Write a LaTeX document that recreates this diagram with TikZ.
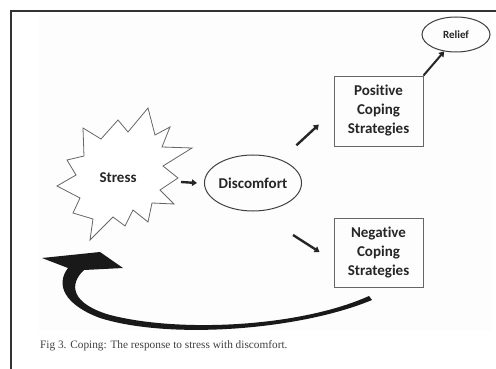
\documentclass[tikz,border=0pt]{standalone}
\usepackage{fontspec}
\setmainfont{Liberation Serif}
\newfontfamily\diag[Ligatures=NoCommon]{Carlito}
\usetikzlibrary{shapes.geometric,arrows.meta,calc}
\tikzset{
  lbl/.style={font=\diag\bfseries\fontsize{15}{19}\selectfont, text=black!85},
  oval/.style={ellipse, draw=black!75, line width=1pt, inner sep=0pt},
  stratbox/.style={rectangle, draw=black!60, line width=0.9pt, minimum width=89pt, minimum height=70pt, align=center, inner sep=0pt},
  thickarr/.style={line width=2.4pt, draw=black!85, -{Triangle[length=5pt,width=6.5pt]}},
  burst/.style={draw=black!60, line width=0.8pt, fill=white, line join=miter},
}
\begin{document}
\begin{tikzpicture}[x=1pt,y=-1pt]
\useasboundingbox (0,0) rectangle (496,369);
\fill[white] (0,0) rectangle (496,369);
\fill[black!0.8] (38,16) rectangle (492,331);
\draw[black!80, line width=1.2pt] (496,11) -- (11,11) -- (11,369);
% starburst
\draw[burst] (148,108) -- (155,135) -- (170,127) -- (162,147) -- (192,148) -- (163,166)
  -- (178,178) -- (160,190) -- (174,204) -- (152,203) -- (148,222) -- (133,210)
  -- (125,226) -- (113,217) -- (90,240) -- (93,219) -- (73,213) -- (80,198)
  -- (57,186) -- (76,175) -- (67,160) -- (84,156) -- (83,128) -- (101,139)
  -- (118,120) -- (128,132) -- cycle;
\node[lbl] (stress) at (118,178) {Stress};
\node[oval,lbl,minimum width=90pt,minimum height=56pt] (disc) at (253,183) {Discomfort};
\node[stratbox,lbl] (pos) at (378.5,111) {Positive\\Coping\\Strategies};
\node[stratbox,lbl,minimum height=69pt] (neg) at (378.5,252.5) {Negative\\Coping\\Strategies};
\node[oval,font=\diag\bfseries\fontsize{11}{13}\selectfont,text=black!85,minimum width=68pt,minimum height=35pt] (relief) at (456,34.5) {Relief};
% connectors
\draw[thickarr] ([shift={(63,4)}]stress.center) -- ([shift={(-7,0)}]disc.west);
\draw[thickarr, shorten <=21pt, shorten >=20pt] (disc.40) -- (pos.west);
\draw[thickarr] ([shift={(40,52)}]disc.center) -- ([shift={(-14,-0.5)}]neg.west);
\draw[thickarr, line width=2pt] (pos.north east) -- (relief.235);
% big curved return arrow
\fill[black!90] (372,300) .. controls (300,330) and (170,340) .. (100,318)
  .. controls (65,305) and (55,285) .. (68,268) -- (42,258) -- (100,252) -- (123,268) -- (84,270)
  .. controls (68,285) and (72,304) .. (110,315)
  .. controls (180,333) and (300,327) .. (369,296) -- cycle;
% caption
\node[anchor=base west, font=\fontsize{11.3}{13}\selectfont, text=black!75, inner sep=0pt] (cap) at (40,348) {Fig 3. Coping: The response to stress with discomfort.};
\end{tikzpicture}
\end{document}
